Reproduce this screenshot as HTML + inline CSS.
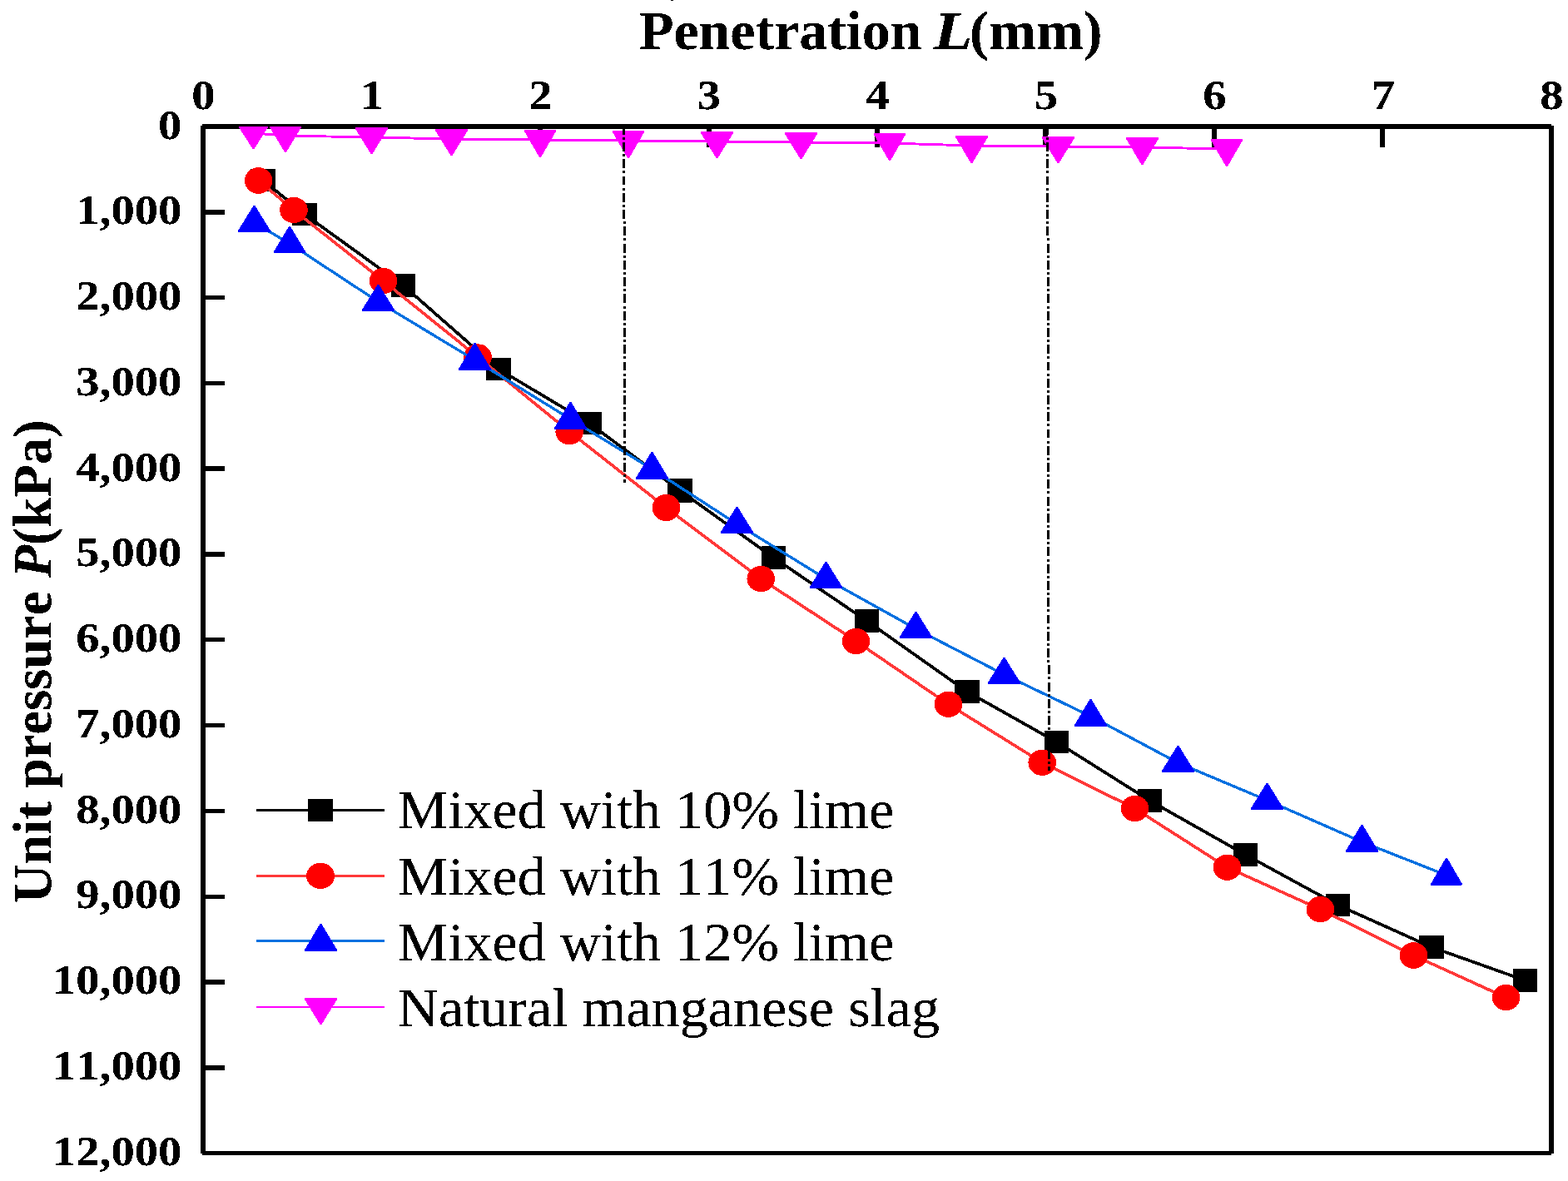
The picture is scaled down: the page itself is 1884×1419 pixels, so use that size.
<!DOCTYPE html>
<html lang="en"><head><meta charset="utf-8"><title>Penetration L(mm) vs Unit pressure P(kPa)</title>
<style>
html,body{margin:0;padding:0;background:#fff;}
body{width:1884px;height:1419px;}
svg{display:block;}
text{font-family:"Liberation Serif","DejaVu Serif",serif;fill:#000;font-kerning:none;font-variant-ligatures:none;}
.b{font-weight:bold;}.i{font-style:italic;}
</style></head><body>
<svg width="1884" height="1419" viewBox="0 0 1884 1419">
<defs><clipPath id="plot"><rect x="244" y="152" width="1620" height="1233"/></clipPath>
<filter id="bw" filterUnits="userSpaceOnUse" x="0" y="0" width="1884" height="1419" color-interpolation-filters="sRGB"><feComponentTransfer><feFuncA type="discrete" tableValues="0 0 1 1 1"/></feComponentTransfer></filter></defs>
<rect width="1884" height="1419" fill="#fff"/>
<rect x="806" y="0" width="3" height="1" fill="#000" shape-rendering="crispEdges"/>
<g id="axes" fill="#000" shape-rendering="crispEdges">
<rect x="243" y="149" width="1621" height="6"/>
<rect x="241" y="151" width="6" height="1235"/>
<rect x="1861" y="151" width="6" height="1235"/>
<rect x="243" y="1383" width="1621" height="5"/>
<rect x="444" y="152" width="6" height="25"/>
<rect x="646" y="152" width="6" height="25"/>
<rect x="849" y="152" width="6" height="25"/>
<rect x="1051" y="152" width="6" height="25"/>
<rect x="1253" y="152" width="6" height="25"/>
<rect x="1456" y="152" width="6" height="25"/>
<rect x="1658" y="152" width="6" height="25"/>
<rect x="244" y="252" width="26" height="6"/>
<rect x="244" y="355" width="26" height="5"/>
<rect x="244" y="458" width="26" height="5"/>
<rect x="244" y="560" width="26" height="6"/>
<rect x="244" y="663" width="26" height="6"/>
<rect x="244" y="766" width="26" height="5"/>
<rect x="244" y="869" width="26" height="5"/>
<rect x="244" y="972" width="26" height="5"/>
<rect x="244" y="1075" width="26" height="5"/>
<rect x="244" y="1177" width="26" height="6"/>
<rect x="244" y="1280" width="26" height="6"/>
</g>
<g id="series" clip-path="url(#plot)" shape-rendering="crispEdges">
<polyline points="316,216.5 366,257.5 484.5,343 599,443.5 708,508.5 817,589.5 929.5,670 1041.5,746 1162,831 1269.5,891.5 1381.5,962 1496.5,1027 1607.5,1087.5 1720,1138 1832.5,1178" fill="none" stroke="#000" stroke-width="3.7"/>
<g fill="#000"><rect x="301" y="203" width="30" height="27"/><rect x="351" y="244" width="30" height="27"/><rect x="470" y="329" width="29" height="28"/><rect x="584" y="430" width="30" height="27"/><rect x="693" y="495" width="30" height="27"/><rect x="802" y="575" width="30" height="29"/><rect x="915" y="656" width="29" height="28"/><rect x="1027" y="732" width="29" height="28"/><rect x="1147" y="817" width="30" height="28"/><rect x="1255" y="878" width="29" height="27"/><rect x="1367" y="948" width="29" height="28"/><rect x="1482" y="1013" width="29" height="28"/><rect x="1593" y="1074" width="29" height="27"/><rect x="1705" y="1124" width="30" height="28"/><rect x="1818" y="1164" width="29" height="28"/></g>
<polyline points="310.7,217 353,252.5 460.6,337.6 574,428.9 684.2,518.7 800.5,610 914.25,695.5 1028.5,770.4 1139.5,846.25 1252.25,916.25 1363.5,971.4 1474.5,1042.25 1586.4,1092.6 1698.5,1148 1809.6,1198.6" fill="none" stroke="#ff3838" stroke-width="3.6"/>
<g fill="#ff0000"><ellipse cx="310.7" cy="217" rx="16.8" ry="15.8"/><ellipse cx="353" cy="252.5" rx="16.8" ry="15.6"/><ellipse cx="460.6" cy="337.6" rx="16.8" ry="15.6"/><ellipse cx="574" cy="428.9" rx="16.8" ry="15.6"/><ellipse cx="684.2" cy="518.7" rx="16.8" ry="15.6"/><ellipse cx="800.5" cy="610" rx="16.8" ry="16"/><ellipse cx="914.25" cy="695.5" rx="16.8" ry="15.6"/><ellipse cx="1028.5" cy="770.4" rx="16.8" ry="15.6"/><ellipse cx="1139.5" cy="846.25" rx="16.8" ry="15.6"/><ellipse cx="1252.25" cy="916.25" rx="16.8" ry="15.6"/><ellipse cx="1363.5" cy="971.4" rx="16.8" ry="15.6"/><ellipse cx="1474.5" cy="1042.25" rx="16.8" ry="15.6"/><ellipse cx="1586.4" cy="1092.6" rx="16.8" ry="15.6"/><ellipse cx="1698.5" cy="1148" rx="16.8" ry="15.8"/><ellipse cx="1809.6" cy="1198.6" rx="16.8" ry="15.6"/></g>
<polyline points="305.5,267.6 348,292.6 454.5,362.6 570.5,432.6 685.5,503.6 783.5,563.6 885.5,629.6 992.5,695.6 1100.5,755.6 1206.5,810.6 1310.5,860.6 1415.5,916.6 1522.5,961.6 1636.5,1011.6 1738,1051.6" fill="none" stroke="#0070e0" stroke-width="3.3"/>
<g fill="#0000ff" stroke="#0000ff" stroke-width="3" stroke-linejoin="round"><polygon points="305.5,248.4 323.5,277.5 287.5,277.5"/><polygon points="348,273.4 365.5,302.5 330.5,302.5"/><polygon points="454.5,343.4 472.5,372.5 436.5,372.5"/><polygon points="570.5,413.4 588.5,443.5 552.5,443.5"/><polygon points="685.5,484.4 703.5,514.5 667.5,514.5"/><polygon points="783.5,544.4 801.5,574.5 765.5,574.5"/><polygon points="885.5,610.4 903.5,639.5 867.5,639.5"/><polygon points="992.5,676.4 1010.5,705.5 974.5,705.5"/><polygon points="1100.5,736.4 1118.5,765.5 1082.5,765.5"/><polygon points="1206.5,791.4 1224.5,820.5 1188.5,820.5"/><polygon points="1310.5,841.4 1328.5,871.5 1292.5,871.5"/><polygon points="1415.5,897.4 1433.5,926.5 1397.5,926.5"/><polygon points="1522.5,942.4 1540.5,971.5 1504.5,971.5"/><polygon points="1636.5,992.4 1654.5,1022.5 1618.5,1022.5"/><polygon points="1738,1032.4 1755.5,1062.5 1720.5,1062.5"/></g>
<polyline points="304.5,160 343,163 446.5,165 542.5,167 649,168 755,169 861.5,170 962.5,171 1069,172 1167.5,175 1271.5,176 1372.5,177 1474,179" fill="none" stroke="#ff00ff" stroke-width="2.9"/>
<g fill="#ff00ff" stroke="#ff00ff" stroke-width="3" stroke-linejoin="round"><polygon points="286.5,149.5 322.5,149.5 304.5,177.6"/><polygon points="325.5,152.5 360.5,152.5 343,181.6"/><polygon points="428.5,154.5 464.5,154.5 446.5,183.6"/><polygon points="524.5,156.5 560.5,156.5 542.5,185.6"/><polygon points="631.5,157.5 666.5,157.5 649,187.6"/><polygon points="737.5,158.5 772.5,158.5 755,188.6"/><polygon points="843.5,159.5 879.5,159.5 861.5,188.6"/><polygon points="944.5,160.5 980.5,160.5 962.5,189.6"/><polygon points="1051.5,161.5 1086.5,161.5 1069,191.6"/><polygon points="1149.5,164.5 1185.5,164.5 1167.5,194.6"/><polygon points="1253.5,165.5 1289.5,165.5 1271.5,194.6"/><polygon points="1354.5,166.5 1390.5,166.5 1372.5,196.6"/><polygon points="1456.5,168.5 1491.5,168.5 1474,198.6"/></g>
</g>
<g id="reflines" stroke="#000" stroke-width="3" fill="none" shape-rendering="crispEdges" stroke-dasharray="10.9 3.2 3 3.17" stroke-dashoffset="1.27">
<line x1="749.79" y1="152" x2="750.62" y2="580"/>
<line x1="1258.75" y1="152" x2="1260.25" y2="926"/>
</g>
<g id="legend" shape-rendering="crispEdges">
<rect x="308" y="972" width="154" height="3" fill="#000"/>
<g fill="#000"><rect x="370" y="960" width="30" height="27"/></g>
<rect x="308" y="1051" width="154" height="3" fill="#ff3838"/>
<g fill="#ff0000"><ellipse cx="385.1" cy="1052.4" rx="16.9" ry="15.6"/></g>
<rect x="308" y="1129" width="154" height="3" fill="#0070e0"/>
<g fill="#0000ff" stroke="#0000ff" stroke-width="3" stroke-linejoin="round"><polygon points="385.5,1111.4 403.5,1141.5 367.5,1141.5"/></g>
<rect x="308" y="1209" width="154" height="2" fill="#ff00ff"/>
<g fill="#ff00ff" stroke="#ff00ff" stroke-width="3" stroke-linejoin="round"><polygon points="367.5,1200.5 403.5,1200.5 385.5,1229.6"/></g>
</g>
<g id="labels" filter="url(#bw)">
<g id="title">
<text transform="translate(767.9 59) scale(1.0375 1)" font-size="65.5" class="b">Penetration</text>
<text transform="translate(1121.8 59) scale(1.1670 1)" font-size="65.5" class="b i">L</text>
<text transform="translate(1165.1 59) scale(1.0448 1)" font-size="65.5" class="b">(mm)</text>
</g>
<g id="xticks">
<text transform="translate(244.5 131) scale(1.0980 1)" font-size="51.5" class="b" text-anchor="middle">0</text>
<text transform="translate(447 131) scale(1.0980 1)" font-size="51.5" class="b" text-anchor="middle">1</text>
<text transform="translate(649.5 131) scale(1.0980 1)" font-size="51.5" class="b" text-anchor="middle">2</text>
<text transform="translate(852 131) scale(1.0980 1)" font-size="51.5" class="b" text-anchor="middle">3</text>
<text transform="translate(1054.5 131) scale(1.0980 1)" font-size="51.5" class="b" text-anchor="middle">4</text>
<text transform="translate(1257 131) scale(1.0980 1)" font-size="51.5" class="b" text-anchor="middle">5</text>
<text transform="translate(1459.5 131) scale(1.0980 1)" font-size="51.5" class="b" text-anchor="middle">6</text>
<text transform="translate(1662 131) scale(1.0980 1)" font-size="51.5" class="b" text-anchor="middle">7</text>
<text transform="translate(1864.5 131) scale(1.0980 1)" font-size="51.5" class="b" text-anchor="middle">8</text>
</g>
<g id="yticks">
<text transform="translate(218.4 167) scale(1.0980 1)" font-size="51.5" class="b" text-anchor="end">0</text>
<text transform="translate(218.4 269) scale(1.0980 1)" font-size="51.5" class="b" text-anchor="end">1,000</text>
<text transform="translate(218.4 372) scale(1.0980 1)" font-size="51.5" class="b" text-anchor="end">2,000</text>
<text transform="translate(218.4 475) scale(1.0980 1)" font-size="51.5" class="b" text-anchor="end">3,000</text>
<text transform="translate(218.4 578) scale(1.0980 1)" font-size="51.5" class="b" text-anchor="end">4,000</text>
<text transform="translate(218.4 680) scale(1.0980 1)" font-size="51.5" class="b" text-anchor="end">5,000</text>
<text transform="translate(218.4 783) scale(1.0980 1)" font-size="51.5" class="b" text-anchor="end">6,000</text>
<text transform="translate(218.4 886) scale(1.0980 1)" font-size="51.5" class="b" text-anchor="end">7,000</text>
<text transform="translate(218.4 989) scale(1.0980 1)" font-size="51.5" class="b" text-anchor="end">8,000</text>
<text transform="translate(218.4 1091) scale(1.0980 1)" font-size="51.5" class="b" text-anchor="end">9,000</text>
<text transform="translate(218.4 1194) scale(1.0980 1)" font-size="51.5" class="b" text-anchor="end">10,000</text>
<text transform="translate(218.4 1297) scale(1.0980 1)" font-size="51.5" class="b" text-anchor="end">11,000</text>
<text transform="translate(218.4 1400) scale(1.0980 1)" font-size="51.5" class="b" text-anchor="end">12,000</text>
</g>
<text transform="translate(61.3 1085.2) rotate(-90) scale(0.9958 1)" font-size="64.8" class="b">Unit pressure <tspan class="i">P</tspan>(kPa)</text>
<g id="legendtext">
<text transform="translate(477.8 995.3) scale(1.0410 1)" font-size="65.5">Mixed with 10% lime</text>
<text transform="translate(477.8 1074.6) scale(1.0410 1)" font-size="65.5">Mixed with 11% lime</text>
<text transform="translate(477.8 1153.7) scale(1.0410 1)" font-size="65.5">Mixed with 12% lime</text>
<text transform="translate(477.8 1232.5) scale(1.0410 1)" font-size="65.5">Natural manganese slag</text>
</g>
</g>
</svg>
</body></html>
